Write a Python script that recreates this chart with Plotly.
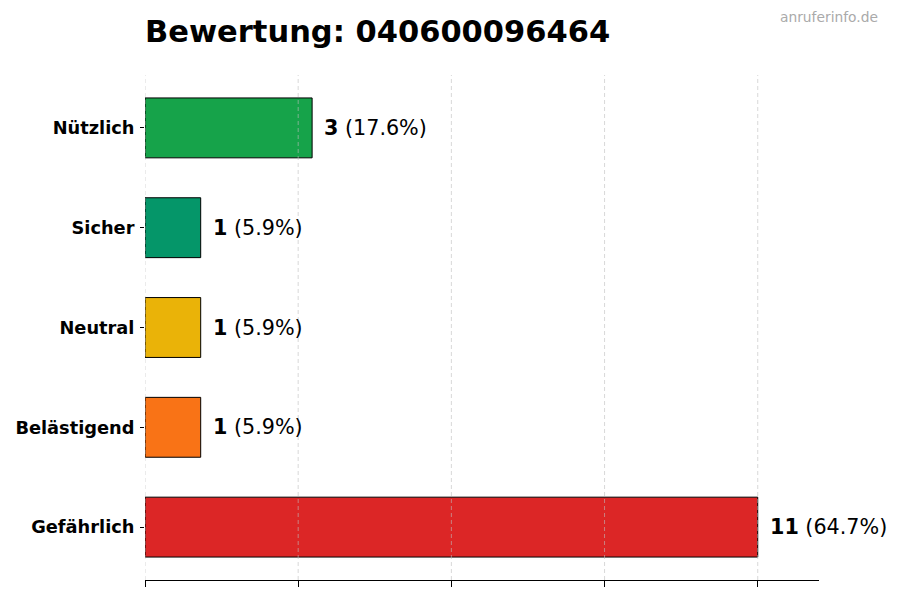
import numpy as np
import plotly.graph_objects as go

categories = ["Gefährlich", "Belästigend", "Neutral", "Sicher", "Nützlich"]
counts = [11, 1, 1, 1, 3]
colors = ["#dc2626", "#f97316", "#eab308", "#059669", "#16a34a"]
title_text = "Bewertung: 040600096464"
watermark = "anruferinfo.de"

total = sum(counts)
vmax = max(counts)
xmax = vmax * 1.1
gridvals = list(np.linspace(0, vmax, 5))

# page body has an 8px margin; compensate so the photo lines up
W, H = 892, 592
ML, MR, MT, MB = 137, 81, 67, 20
pw = W - ML - MR
ph = H - MT - MB

fig = go.Figure()
fig.add_trace(go.Bar(
    y=list(range(len(categories))),
    x=counts,
    orientation="h",
    width=0.6,
    marker=dict(color=colors, line=dict(color="black", width=1)),
    hoverinfo="skip",
))

for i, (c, v) in enumerate(zip(categories, counts)):
    pct = 100 * v / total
    fig.add_annotation(
        x=v, y=i, xref="x", yref="y",
        text=f"<b>{v}</b> ({pct:.1f}%)",
        showarrow=False, xanchor="left", yanchor="middle",
        xshift=10,
        font=dict(family="DejaVu Sans", size=20.7, color="black"),
    )

for g in gridvals:
    fig.add_shape(type="line", xref="x", yref="paper", x0=g, x1=g, y0=0, y1=1,
                  line=dict(color="rgba(190,190,190,0.6)", width=1, dash="4px,3px"),
                  layer="above")

fig.add_annotation(
    text=watermark, xref="paper", yref="paper",
    x=(872 - ML) / pw, y=1 + (MT - 9) / ph,
    xanchor="right", yanchor="middle", showarrow=False,
    font=dict(family="DejaVu Sans", size=13.8, color="#aaaaaa"),
)

fig.update_layout(
    width=W, height=H,
    margin=dict(l=ML, r=MR, t=MT, b=MB, autoexpand=False),
    paper_bgcolor="white", plot_bgcolor="white",
    showlegend=False,
    title=dict(text=f"<b>{title_text}</b>", x=ML / W, xanchor="left",
               y=1 - 23 / H, yanchor="middle",
               font=dict(family="DejaVu Sans", size=30.5, color="black")),
    xaxis=dict(range=[0, xmax], tickvals=gridvals, showticklabels=False,
               showgrid=False, zeroline=False, showline=True, linecolor="black",
               linewidth=1, ticks="outside", ticklen=6, tickcolor="black",
               automargin=False),
    yaxis=dict(range=[-0.53, len(categories) - 1 + 0.53],
               tickvals=list(range(len(categories))), ticktext=[f"<b>{c}</b>" for c in categories],
               showgrid=False, zeroline=False, showline=False,
               ticks="outside", ticklen=4, tickcolor="black", ticklabelstandoff=2,
               automargin=False,
               tickfont=dict(family="DejaVu Sans", size=17.8, color="black")),
)

fig.write_html("out.html")
